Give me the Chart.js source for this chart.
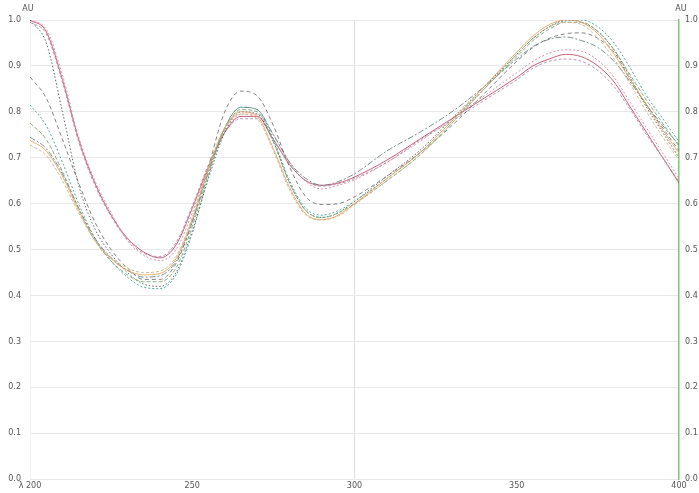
<!DOCTYPE html>
<html>
<head>
<meta charset="utf-8">
<script src="https://cdn.jsdelivr.net/npm/chart.js@4/dist/chart.umd.min.js"></script>
<style>
  html, body { margin: 0; padding: 0; background: #fff; }
  #wrap { width: 699px; height: 493px; }
</style>
</head>
<body>
<div id="wrap"><canvas id="myChart"></canvas></div>
<script>
// wavelength (nm)
const wavelengths = [200,205,210,215,220,225,230,235,240,245,250,255,260,265,270,275,280,285,290,295,300,310,320,330,340,350,355,360,365,370,375,380,385,390,395,400]

// absorbance (AU) per sample
const red    = [1.0,0.975,0.87,0.74,0.645,0.575,0.525,0.495,0.482,0.51,0.59,0.68,0.755,0.79,0.79,0.74,0.685,0.65,0.64,0.645,0.658,0.695,0.74,0.785,0.83,0.875,0.9,0.915,0.925,0.92,0.9,0.865,0.81,0.755,0.7,0.645]
const pink   = [1.0,0.98,0.88,0.745,0.65,0.58,0.52,0.488,0.476,0.5,0.58,0.675,0.755,0.795,0.795,0.75,0.69,0.648,0.632,0.64,0.652,0.69,0.735,0.785,0.835,0.885,0.91,0.928,0.935,0.932,0.912,0.875,0.82,0.765,0.71,0.655]
const mauve  = [0.995,0.97,0.865,0.735,0.64,0.572,0.522,0.492,0.485,0.515,0.595,0.685,0.755,0.785,0.785,0.74,0.685,0.65,0.638,0.643,0.655,0.69,0.738,0.78,0.825,0.87,0.895,0.91,0.915,0.91,0.89,0.855,0.805,0.75,0.7,0.648]
const dotted = [1.0,0.95,0.8,0.64,0.545,0.49,0.45,0.425,0.42,0.45,0.54,0.655,0.755,0.8,0.795,0.735,0.645,0.585,0.57,0.58,0.605,0.66,0.715,0.785,0.855,0.925,0.96,0.985,1.0,0.995,0.975,0.935,0.875,0.81,0.755,0.7]
const grey   = [0.876,0.83,0.74,0.645,0.56,0.5,0.46,0.435,0.435,0.47,0.56,0.68,0.8,0.845,0.835,0.77,0.68,0.615,0.598,0.6,0.615,0.66,0.71,0.77,0.84,0.91,0.94,0.96,0.97,0.972,0.96,0.93,0.87,0.815,0.765,0.715]
const teal   = [0.815,0.77,0.69,0.6,0.525,0.475,0.44,0.418,0.415,0.445,0.535,0.66,0.765,0.81,0.805,0.74,0.65,0.59,0.575,0.585,0.605,0.655,0.71,0.78,0.85,0.925,0.96,0.985,0.998,1.0,0.985,0.95,0.895,0.835,0.785,0.735]
const green  = [0.776,0.74,0.67,0.59,0.52,0.475,0.445,0.43,0.43,0.46,0.55,0.665,0.76,0.805,0.8,0.735,0.645,0.585,0.57,0.58,0.6,0.65,0.705,0.775,0.85,0.92,0.955,0.98,0.995,0.995,0.975,0.935,0.88,0.825,0.775,0.725]
const orange = [0.738,0.715,0.66,0.585,0.52,0.48,0.455,0.445,0.448,0.48,0.565,0.675,0.765,0.8,0.79,0.72,0.635,0.578,0.565,0.575,0.6,0.655,0.71,0.78,0.855,0.93,0.965,0.99,1.0,0.995,0.97,0.925,0.87,0.815,0.76,0.71]
const tan    = [0.728,0.705,0.65,0.58,0.52,0.482,0.46,0.45,0.453,0.485,0.57,0.68,0.765,0.795,0.785,0.715,0.63,0.575,0.565,0.573,0.598,0.65,0.705,0.775,0.85,0.925,0.96,0.985,0.995,0.99,0.96,0.915,0.86,0.8,0.745,0.695]
const dashdot = [0.745,0.72,0.665,0.59,0.525,0.482,0.455,0.44,0.443,0.475,0.56,0.67,0.765,0.81,0.805,0.75,0.69,0.655,0.64,0.648,0.665,0.715,0.755,0.8,0.855,0.915,0.942,0.958,0.963,0.955,0.94,0.91,0.865,0.815,0.77,0.728]

const xTicks = [200,250,300,350,400]
const yTicks = [0.0,0.1,0.2,0.3,0.4,0.5,0.6,0.7,0.8,0.9,1.0]

function pts(values) {
    return values.map((v, i) => ({ x: wavelengths[i], y: v }))
}

function line(label, values, color, dash, width) {
    return {
        label: label,
        data: pts(values),
        borderColor: color,
        borderWidth: width || 1,
        borderDash: dash,
        pointRadius: 0,
        fill: false,
        cubicInterpolationMode: 'monotone'
    }
}

const auLabels = {
    id: 'auLabels',
    afterDraw(chart) {
        const ctx = chart.ctx
        const a = chart.chartArea
        ctx.save()
        ctx.font = '8px "DejaVu Sans"'
        ctx.fillStyle = '#555'
        ctx.textAlign = 'center'
        ctx.textBaseline = 'middle'
        ctx.fillText('AU', a.left - 2, 9)
        ctx.fillText('AU', a.right + 2, 9)
        ctx.restore()
    }
}

const tickFont = { family: 'DejaVu Sans', size: 8 }

var chartField = document.querySelector('#myChart').getContext('2d')

var myChart = new Chart(chartField, {
    type: 'line',
    data: {
        datasets: [
            line('1', tan, 'rgba(205,180,135,0.9)', [3, 2]),
            line('2', orange, 'rgba(232,160,90,0.85)', []),
            line('3', green, 'rgba(125,165,120,0.9)', [4, 2]),
            line('4', teal, 'rgba(60,150,150,0.85)', [2, 2]),
            line('5', dashdot, 'rgba(100,125,125,0.85)', [6, 2, 2, 2]),
            line('6', grey, 'rgba(110,110,110,0.85)', [4, 3]),
            line('7', dotted, 'rgba(70,80,80,0.85)', [1.5, 2]),
            line('8', mauve, 'rgba(180,140,175,0.9)', [3, 2]),
            line('9', pink, 'rgba(215,135,160,0.9)', [2, 2]),
            line('10', red, 'rgba(190,70,95,0.85)', [])
        ]
    },
    options: {
        responsive: true,
        maintainAspectRatio: false,
        animation: false,
        layout: { padding: { top: 20, left: 0, right: 0, bottom: 0 } },
        plugins: {
            legend: { display: false },
            tooltip: { enabled: false }
        },
        scales: {
            x: {
                type: 'linear',
                min: 200,
                max: 400,
                afterBuildTicks: (s) => { s.ticks = xTicks.map(v => ({ value: v })) },
                afterFit: (s) => { s.height = 13 },
                border: { display: false },
                grid: {
                    drawTicks: false,
                    color: (c) => c.tick && c.tick.value === 300 ? '#dedede' : 'rgba(0,0,0,0)'
                },
                ticks: {
                    padding: 2,
                    maxRotation: 0,
                    font: tickFont,
                    color: '#555',
                    callback: (v) => v === 200 ? 'λ 200' : String(v)
                }
            },
            y: {
                position: 'left',
                min: 0,
                max: 1,
                afterBuildTicks: (s) => { s.ticks = yTicks.map(v => ({ value: v })) },
                afterFit: (s) => { s.width = 30 },
                border: { display: true, color: '#eef3ee' },
                grid: { drawTicks: false, color: '#e8e8e8' },
                ticks: {
                    padding: 9,
                    font: tickFont,
                    color: '#555',
                    callback: (v) => v.toFixed(1)
                }
            },
            y2: {
                position: 'right',
                min: 0,
                max: 1,
                afterBuildTicks: (s) => { s.ticks = yTicks.map(v => ({ value: v })) },
                afterFit: (s) => { s.width = 20 },
                border: { display: true, color: '#7cc47c', width: 1.5 },
                grid: { display: false, drawTicks: false },
                ticks: {
                    padding: 6,
                    font: tickFont,
                    color: '#555',
                    callback: (v) => v.toFixed(1)
                }
            }
        }
    },
    plugins: [auLabels]
});
</script>
</body>
</html>
